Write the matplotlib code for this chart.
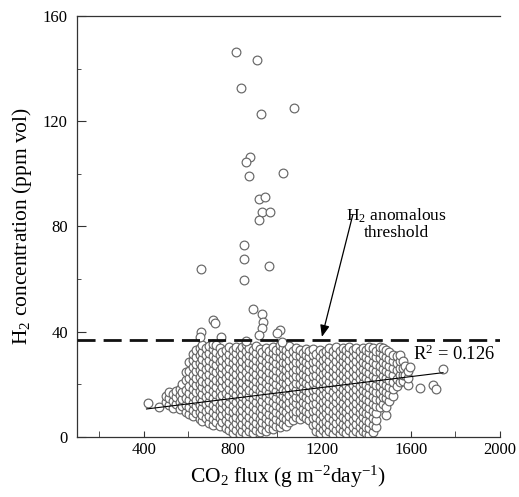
import numpy as np
import matplotlib
matplotlib.use("Agg")
import matplotlib.pyplot as plt
from matplotlib.ticker import MultipleLocator

plt.rcParams['font.family'] = ['Liberation Serif', 'DejaVu Serif']
plt.rcParams['mathtext.fontset'] = 'custom'
plt.rcParams['mathtext.rm'] = 'Liberation Serif'
plt.rcParams['mathtext.it'] = 'Liberation Serif:italic'

# --- data ----------------------------------------------------------------
# dense cloud, one column of H2 values per CO2 flux value
cloud_left = [
    (419, [12.8]), (469, [11.4]),
    (500, [13.2, 15.6]), (513, [12.1, 14.8, 17.0]), (531, [11.0, 13.6, 16.2]),
    (544, [12.4, 15.0, 17.6]), (562, [10.6, 13.1, 15.8, 18.3]),
    (574, [11.8, 14.4, 17.1, 20.2]),
    (591, [9.4, 12.2, 14.9, 17.8, 21.5, 24.6]),
    (603, [8.6, 11.3, 13.9, 16.5, 19.4, 22.3, 25.2, 28.4]),
    (621, [7.8, 10.4, 13.0, 15.7, 18.2, 20.9, 23.6, 26.4, 29.3, 31.5]),
    (634, [8.9, 11.6, 14.2, 17.0, 19.6, 22.4, 25.0, 27.8, 30.4, 33.0]),
    (652, [6.8, 9.5, 12.1, 14.8, 17.3, 20.1, 22.9, 25.6, 28.2, 31.0, 33.6]),
    (664, [5.9, 8.3, 10.9, 13.5, 16.2, 18.8, 21.4, 24.2, 26.9, 29.5, 32.3, 34.8]),
    (681, [7.2, 9.8, 12.6, 15.1, 17.7, 20.5, 23.1, 25.8, 28.6, 31.2, 33.9]),
    (694, [5.1, 7.9, 10.5, 13.2, 15.9, 18.4, 21.1, 23.9, 26.5, 29.1, 31.8, 34.6]),
    (712, [4.6, 6.9, 9.6, 12.1, 14.7, 17.4, 20.0, 22.6, 25.3, 28.0, 30.7, 33.3, 35.4]),
    (724, [5.8, 8.4, 11.1, 13.8, 16.4, 19.1, 21.7, 24.5, 27.2, 29.8, 32.4, 35.0]),
    (741, [4.2, 7.0, 9.7, 12.3, 15.0, 17.6, 20.3, 22.9, 25.6, 28.4, 31.0, 33.8]),
    (753, [5.5, 8.2, 10.8, 13.4, 16.1, 18.9, 21.5, 24.1, 26.7, 29.3, 32.1]),
    (771, [3.5, 6.3, 8.9, 11.6, 14.2, 16.8, 19.6, 22.3, 24.9, 27.6, 30.2, 32.9]),
]
cloud_mid = [
    (784, [2.6, 5.2, 7.8, 10.4, 13.0, 15.6, 18.3, 21.0, 23.7, 26.3, 29.0, 31.6, 34.1]),
    (801, [1.4, 3.9, 6.6, 9.3, 11.9, 14.5, 17.2, 19.8, 22.5, 25.2, 27.9, 30.5, 33.2]),
    (814, [2.5, 5.1, 7.7, 10.4, 13.1, 15.8, 18.4, 21.1, 23.8, 26.4, 29.1, 31.7, 34.3]),
    (831, [1.2, 3.8, 6.4, 9.0, 11.7, 14.3, 17.0, 19.7, 22.3, 25.0, 27.6, 30.3, 32.9]),
    (844, [2.4, 5.0, 7.6, 10.3, 12.9, 15.6, 18.2, 20.9, 23.5, 26.2, 28.9, 31.5, 34.0]),
    (861, [1.0, 3.6, 6.2, 8.8, 11.5, 14.1, 16.8, 19.4, 22.1, 24.7, 27.4, 30.1, 32.7, 35.2]),
    (874, [2.2, 4.8, 7.4, 10.1, 12.7, 15.4, 18.0, 20.7, 23.3, 26.0, 28.6, 31.3, 33.9]),
    (891, [1.3, 3.9, 6.5, 9.2, 11.8, 14.5, 17.1, 19.8, 22.4, 25.1, 27.8, 30.4, 33.0]),
    (904, [2.6, 5.2, 7.9, 10.5, 13.2, 15.8, 18.5, 21.1, 23.8, 26.5, 29.1, 31.8, 34.4]),
    (921, [1.8, 4.3, 6.9, 9.6, 12.2, 14.9, 17.5, 20.2, 22.8, 25.5, 28.1, 30.8, 33.3]),
    (934, [3.0, 5.6, 8.3, 10.9, 13.6, 16.2, 18.9, 21.5, 24.2, 26.8, 29.5, 32.1]),
    (951, [2.2, 4.7, 7.3, 10.0, 12.6, 15.3, 17.9, 20.6, 23.2, 25.9, 28.5, 31.2, 33.7]),
    (964, [3.4, 6.0, 8.7, 11.3, 14.0, 16.6, 19.3, 21.9, 24.6, 27.2, 29.9, 32.5]),
    (981, [2.8, 5.3, 7.9, 10.6, 13.2, 15.9, 18.5, 21.2, 23.8, 26.5, 29.1, 31.8, 34.2]),
    (994, [4.1, 6.7, 9.4, 12.0, 14.7, 17.3, 20.0, 22.6, 25.3, 27.9, 30.6, 33.2]),
    (1011, [3.6, 6.1, 8.7, 11.4, 14.0, 16.7, 19.3, 22.0, 24.6, 27.3, 29.9, 32.6, 35.0]),
    (1024, [4.8, 7.4, 10.1, 12.7, 15.4, 18.0, 20.7, 23.3, 26.0, 28.6, 31.3, 33.8]),
    (1041, [4.2, 6.8, 9.4, 12.1, 14.7, 17.4, 20.0, 22.7, 25.3, 28.0, 30.6, 33.1]),
    (1054, [5.5, 8.1, 10.8, 13.4, 16.1, 18.7, 21.4, 24.0, 26.7, 29.3, 32.0, 34.4]),
    (1071, [6.3, 8.9, 11.6, 14.2, 16.9, 19.5, 22.2, 24.8, 27.5, 30.1, 32.7]),
    (1084, [7.4, 10.0, 12.7, 15.3, 18.0, 20.6, 23.3, 25.9, 28.6, 31.2, 33.6]),
    (1101, [6.8, 9.4, 12.0, 14.7, 17.3, 20.0, 22.6, 25.3, 27.9, 30.6, 33.0]),
    (1114, [8.1, 10.7, 13.4, 16.0, 18.7, 21.3, 24.0, 26.6, 29.3, 31.9]),
    (1131, [7.3, 9.9, 12.5, 15.2, 17.8, 20.5, 23.1, 25.8, 28.4, 31.1, 33.5]),
    (1144, [6.5, 9.0, 11.7, 14.3, 17.0, 19.6, 22.3, 24.9, 27.6, 30.2, 32.8]),
]
cloud_right = [
    (1161, [4.4, 7.0, 9.8, 12.4, 15.1, 17.7, 20.4, 23.0, 25.7, 28.3, 31.0, 33.4]),
    (1174, [2.1, 4.8, 7.5, 10.2, 12.8, 15.5, 18.1, 20.8, 23.4, 26.1, 28.7, 31.4]),
    (1191, [1.3, 3.9, 6.5, 9.2, 11.8, 14.5, 17.1, 19.8, 22.4, 25.1, 27.7, 30.4, 33.0]),
    (1204, [2.7, 5.3, 8.0, 10.6, 13.3, 15.9, 18.6, 21.2, 23.9, 26.5, 29.2, 31.8]),
    (1221, [1.0, 3.6, 6.2, 8.9, 11.5, 14.2, 16.8, 19.5, 22.1, 24.8, 27.4, 30.1, 32.7]),
    (1234, [2.3, 4.9, 7.6, 10.2, 12.9, 15.5, 18.2, 20.8, 23.5, 26.1, 28.8, 31.4, 33.9]),
    (1251, [1.1, 3.7, 6.3, 9.0, 11.6, 14.3, 16.9, 19.6, 22.2, 24.9, 27.5, 30.2, 32.8]),
    (1264, [2.5, 5.1, 7.8, 10.4, 13.1, 15.7, 18.4, 21.0, 23.7, 26.3, 29.0, 31.6, 34.0]),
    (1281, [0.9, 3.5, 6.1, 8.8, 11.4, 14.1, 16.7, 19.4, 22.0, 24.7, 27.3, 30.0, 32.6]),
    (1294, [2.2, 4.8, 7.5, 10.1, 12.8, 15.4, 18.1, 20.7, 23.4, 26.0, 28.7, 31.3, 33.8]),
    (1311, [1.4, 4.0, 6.6, 9.3, 11.9, 14.6, 17.2, 19.9, 22.5, 25.2, 27.8, 30.5, 33.0]),
    (1324, [2.7, 5.3, 8.0, 10.6, 13.3, 15.9, 18.6, 21.2, 23.9, 26.5, 29.2, 31.8, 34.2]),
    (1341, [1.2, 3.8, 6.4, 9.1, 11.7, 14.4, 17.0, 19.7, 22.3, 25.0, 27.6, 30.3, 32.9]),
    (1354, [2.4, 5.0, 7.7, 10.3, 13.0, 15.6, 18.3, 20.9, 23.6, 26.2, 28.9, 31.5, 33.9]),
    (1371, [1.0, 3.6, 6.2, 8.9, 11.5, 14.2, 16.8, 19.5, 22.1, 24.8, 27.4, 30.1, 32.6]),
    (1384, [2.1, 4.7, 7.4, 10.0, 12.7, 15.3, 18.0, 20.6, 23.3, 25.9, 28.6, 31.2, 33.7]),
    (1401, [1.3, 3.9, 6.5, 9.2, 11.8, 14.5, 17.1, 19.8, 22.4, 25.1, 27.7, 30.4, 33.0]),
    (1414, [0.8, 3.2, 5.8, 8.5, 11.1, 13.8, 16.4, 19.1, 21.7, 24.4, 27.0, 29.7, 32.3, 34.1]),
    (1431, [2.0, 4.6, 7.3, 9.9, 12.6, 15.2, 17.9, 20.5, 23.2, 25.8, 28.5, 31.1, 33.6]),
    (1444, [3.8, 6.4, 9.1, 11.7, 14.4, 17.0, 19.7, 22.3, 25.0, 27.6, 30.3, 32.8]),
    (1461, [11.2, 13.9, 16.5, 19.2, 21.8, 24.5, 27.1, 29.8, 32.4, 34.0]),
    (1474, [12.6, 15.3, 17.9, 20.6, 23.2, 25.9, 28.5, 31.2, 33.6]),
    (1491, [8.4, 11.4, 14.6, 17.2, 19.9, 22.5, 25.2, 27.8, 30.5, 33.1]),
    (1504, [13.8, 16.4, 19.1, 21.7, 24.4, 27.0, 29.7, 32.2]),
    (1521, [15.6, 18.3, 20.9, 23.6, 26.2, 28.9, 31.3]),
    (1538, [19.5, 22.1, 25.5, 28.0, 30.8]),
    (1550, [20.8, 23.4, 26.0, 29.0, 31.0]),
    (1565, [21.2, 23.6, 26.2, 28.8]),
    (1574, [23.6, 27.0]), (1588, [19.8, 22.4, 25.0]), (1597, [26.6]),
    (1641, [18.6]), (1700, [19.8]), (1713, [18.2]), (1745, [25.8]),
]

# scattered high values above the cloud
out_flux = [813, 910, 837, 1074, 928, 876, 858, 873, 1027, 917, 946, 930, 966,
            917, 853, 853, 963, 657, 852, 893, 930, 936, 931, 918, 1012, 999,
            1021, 656, 652, 711, 720, 860, 747]
out_h2 = [146.1, 143.3, 132.6, 124.9, 122.6, 106.5, 104.5, 99.2, 100.2, 90.4,
          91.2, 85.4, 85.5, 82.4, 72.9, 67.5, 65.1, 63.9, 59.5, 48.6, 46.8,
          43.7, 41.4, 38.8, 40.7, 39.5, 36.1, 40.0, 38.0, 44.5, 43.3, 36.5, 37.9]

fit_x = [413, 1745]
fit_y = [10.6, 24.4]
threshold = 37

flux = []
h2 = []
for col in cloud_left + cloud_mid + cloud_right:
    for v in col[1]:
        flux.append(col[0])
        h2.append(v)
flux = np.array(flux + out_flux)
h2 = np.array(h2 + out_h2)

# --- figure --------------------------------------------------------------
fig = plt.figure(figsize=(5.19, 4.97), dpi=100)
ax = fig.add_axes([0.148, 0.121, 0.815, 0.847])

ax.plot(flux, h2, 'o', ms=6.3, mfc='white', mec='#666666', mew=0.85, zorder=2)
ax.plot(fit_x, fit_y, color='black', lw=0.8, zorder=3)
ax.axhline(threshold, color='#111111', lw=2.0, dashes=(6.5, 2.9), zorder=4)

ax.annotate('', xy=(1201, 38), xytext=(1340, 84.5),
            arrowprops=dict(arrowstyle='-|>,head_length=0.7,head_width=0.28',
                            color='black', lw=0.9, shrinkA=0, shrinkB=0))
ax.text(1534, 81, 'H$_2$ anomalous\nthreshold', ha='center', va='center',
        multialignment='center', fontsize=12.6, linespacing=1.05)
ax.text(1610, 31.2, 'R$^2$ = 0.126', ha='left', va='center', fontsize=13.3)

ax.set_xlim(100, 2000)
ax.set_ylim(0, 160)
ax.xaxis.set_major_locator(MultipleLocator(400))
ax.xaxis.set_minor_locator(MultipleLocator(200))
ax.yaxis.set_major_locator(MultipleLocator(40))
ax.yaxis.set_minor_locator(MultipleLocator(20))
ax.set_xticks([400, 800, 1200, 1600, 2000])

ax.tick_params(which='both', direction='in', labelsize=12, color='#333333')
ax.tick_params(axis='y', which='major', length=6.5, pad=6.5)
ax.tick_params(axis='y', which='minor', length=3.2)
ax.tick_params(axis='x', which='both', length=4, pad=4)
ax.tick_params(right=False, top=False, which='both')

ax.spines['right'].set_visible(False)
for s in ['left', 'bottom', 'top']:
    ax.spines[s].set_color('#333333')
    ax.spines[s].set_linewidth(0.9)

ax.set_xlabel('CO$_2$ flux (g m$^{-2}$day$^{-1}$)', fontsize=15.5, labelpad=4)
ax.set_ylabel('H$_2$ concentration (ppm vol)', fontsize=15.5, labelpad=6)

fig.savefig('out.png', dpi=100)
